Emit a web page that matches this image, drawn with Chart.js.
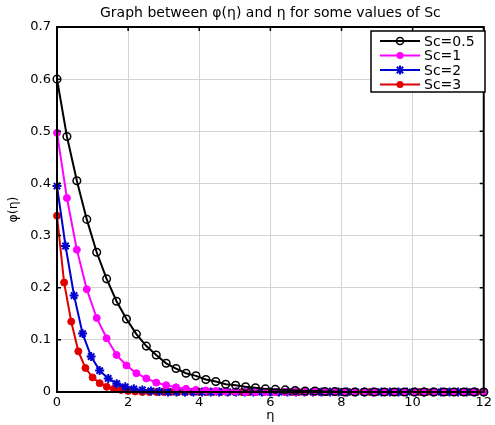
<!DOCTYPE html>
<html>
<head>
<meta charset="utf-8">
<script src="https://cdn.jsdelivr.net/npm/chart.js@4.4.0/dist/chart.umd.min.js"></script>
<style>
  body { margin: 0; background: #fff; }
  canvas { display: block; }
</style>
</head>
<body>
<canvas id="mycanvas" width="495" height="425"></canvas>
<script>
// concentration profiles phi(eta), one series per Schmidt number
var labels = ['Sc=0.5', 'Sc=1', 'Sc=2', 'Sc=3'];
var steps = [12 / 43, 12 / 43, 0.24, 0.2];

var phiSc05 = [0.6, 0.49, 0.405, 0.331, 0.268, 0.217, 0.174, 0.14, 0.111, 0.088,
  0.071, 0.055, 0.045, 0.036, 0.031, 0.024, 0.02, 0.015, 0.013, 0.010,
  0.008, 0.006, 0.005, 0.004, 0.003, 0.002, 0.002, 0.001, 0.001, 0,
  0, 0, 0, 0, 0, 0, 0, 0, 0, 0, 0, 0, 0, 0];
var phiSc1 = [0.497, 0.372, 0.273, 0.197, 0.142, 0.103, 0.071, 0.051, 0.036, 0.026,
  0.018, 0.013, 0.009, 0.006, 0.004, 0.003, 0.002, 0.001, 0.001, 0,
  0, 0, 0, 0, 0, 0, 0, 0, 0, 0, 0, 0, 0, 0, 0, 0, 0, 0, 0, 0, 0, 0, 0, 0];
var phiSc2 = [0.395, 0.28, 0.185, 0.112, 0.068, 0.041, 0.026, 0.016, 0.010, 0.006,
  0.004, 0.002, 0.001, 0, 0, 0, 0, 0, 0, 0, 0, 0, 0, 0, 0, 0, 0, 0, 0, 0,
  0, 0, 0, 0, 0, 0, 0, 0, 0, 0, 0, 0, 0, 0, 0, 0, 0, 0, 0, 0, 0];
var phiSc3 = [0.338, 0.21, 0.135, 0.078, 0.046, 0.028, 0.017, 0.010, 0.006, 0.004,
  0.002, 0.001, 0, 0, 0, 0, 0, 0, 0, 0, 0, 0, 0, 0, 0, 0, 0, 0, 0, 0,
  0, 0, 0, 0, 0, 0, 0, 0, 0, 0, 0, 0, 0, 0, 0, 0, 0, 0, 0, 0, 0, 0, 0, 0,
  0, 0, 0, 0, 0, 0, 0];

var xTicks = [0, 2, 4, 6, 8, 10, 12];
var yTicks = [0, 0.1, 0.2, 0.3, 0.4, 0.5, 0.6, 0.7];

var colors = ['#000000', '#ff00ff', '#0000d0', '#e00000'];
var markers = ['ring', 'dot', 'star', 'dot'];

function pts(vals, step) {
  var out = [];
  for (var i = 0; i < vals.length; i++) out.push({x: i * step, y: vals[i]});
  return out;
}

var series = [phiSc05, phiSc1, phiSc2, phiSc3];
var datasets = [];
for (var k = 0; k < series.length; k++) {
  var ring = markers[k] == 'ring';
  datasets.push({
    label: labels[k],
    data: pts(series[k], steps[k]),
    borderColor: colors[k],
    backgroundColor: colors[k],
    borderWidth: 2,
    pointStyle: markers[k] == 'star' ? 'star' : 'circle',
    pointRadius: ring ? 3.8 : (markers[k] == 'star' ? 4.5 : 3.5),
    pointBorderWidth: ring ? 1.5 : (markers[k] == 'star' ? 2 : 1),
    pointBackgroundColor: ring ? 'rgba(0,0,0,0)' : colors[k],
    pointBorderColor: colors[k],
    tension: 0,
    clip: false
  });
}

function drawMarker(ctx, kind, color, x, y) {
  ctx.save();
  ctx.strokeStyle = color;
  ctx.fillStyle = color;
  if (kind == 'ring') {
    ctx.lineWidth = 1.5;
    ctx.beginPath(); ctx.arc(x, y, 3.5, 0, Math.PI * 2); ctx.stroke();
  } else if (kind == 'dot') {
    ctx.beginPath(); ctx.arc(x, y, 3.5, 0, Math.PI * 2); ctx.fill();
  } else {
    ctx.lineWidth = 2;
    ctx.beginPath();
    for (var a = 0; a < 4; a++) {
      var t = a * Math.PI / 4;
      ctx.moveTo(x - 4.5 * Math.cos(t), y - 4.5 * Math.sin(t));
      ctx.lineTo(x + 4.5 * Math.cos(t), y + 4.5 * Math.sin(t));
    }
    ctx.stroke();
  }
  ctx.restore();
}

var fam = '"DejaVu Sans", Arial, sans-serif';

// axes box, inward ticks, title and legend box
var decorations = {
  id: 'decorations',
  afterDraw: function(chart) {
    var ctx = chart.ctx, a = chart.chartArea;
    var xs = chart.scales.x, ys = chart.scales.y;
    ctx.save();
    ctx.strokeStyle = '#000';
    ctx.lineWidth = 2;
    ctx.strokeRect(a.left, a.top, a.right - a.left, a.bottom - a.top);
    ctx.lineWidth = 1.5;
    ctx.beginPath();
    xTicks.forEach(function(v) {
      var px = xs.getPixelForValue(v);
      ctx.moveTo(px, a.bottom); ctx.lineTo(px, a.bottom - 4);
      ctx.moveTo(px, a.top); ctx.lineTo(px, a.top + 4);
    });
    yTicks.forEach(function(v) {
      var py = ys.getPixelForValue(v);
      ctx.moveTo(a.left, py); ctx.lineTo(a.left + 4, py);
      ctx.moveTo(a.right, py); ctx.lineTo(a.right - 4, py);
    });
    ctx.stroke();

    ctx.fillStyle = '#000';
    ctx.font = '14px ' + fam;
    ctx.textAlign = 'center';
    ctx.textBaseline = 'middle';
    ctx.fillText('Graph between \u03c6(\u03b7) and \u03b7 for some values of Sc', (a.left + a.right) / 2, 13);

    // legend
    var bx = 371, by = 31, bw = 114, bh = 61;
    ctx.fillStyle = '#fff';
    ctx.fillRect(bx, by, bw, bh);
    ctx.lineWidth = 1.5;
    ctx.strokeRect(bx, by, bw, bh);
    ctx.font = '14px ' + fam;
    ctx.textAlign = 'left';
    for (var i = 0; i < labels.length; i++) {
      var ly = 41 + i * 14.5;
      ctx.strokeStyle = colors[i];
      ctx.lineWidth = 2;
      ctx.beginPath(); ctx.moveTo(380, ly); ctx.lineTo(420, ly); ctx.stroke();
      drawMarker(ctx, markers[i], colors[i], 400, ly);
      ctx.fillStyle = '#000';
      ctx.fillText(labels[i], 424, ly + 1);
    }
    ctx.restore();
  }
};

var tickFont = {family: fam, size: 13};

var ctx = document.getElementById('mycanvas');
var chart = new Chart(ctx, {
  type: 'line',
  data: {datasets: datasets},
  plugins: [decorations],
  options: {
    responsive: false,
    animation: false,
    devicePixelRatio: 1,
    layout: {padding: {left: 0, right: 8, top: 27, bottom: 0}},
    plugins: {legend: {display: false}, title: {display: false}, tooltip: {enabled: false}},
    scales: {
      x: {
        type: 'linear', min: 0, max: 12,
        afterFit: function(s) { s.height = 33; },
        afterBuildTicks: function(s) { s.ticks = xTicks.map(function(v) { return {value: v}; }); },
        ticks: {color: '#000', font: tickFont, padding: 3, maxRotation: 0},
        grid: {color: '#d4d4d4', lineWidth: 1, drawTicks: false},
        border: {display: false},
        title: {display: true, text: '\u03b7', color: '#000', font: tickFont, padding: {top: 0, bottom: 2}}
      },
      y: {
        type: 'linear', min: 0, max: 0.7,
        afterFit: function(s) { s.width = 57; },
        afterBuildTicks: function(s) { s.ticks = yTicks.map(function(v) { return {value: v}; }); },
        ticks: {color: '#000', font: tickFont, padding: 6,
          callback: function(v) { return String(Number(v.toFixed(1))); }},
        grid: {color: '#d4d4d4', lineWidth: 1, drawTicks: false},
        border: {display: false},
        title: {display: true, text: '\u03c6(\u03b7)', color: '#000', font: {family: fam, size: 12.5}, padding: {top: 6, bottom: 0}}
      }
    }
  }
});
</script>
</body>
</html>
